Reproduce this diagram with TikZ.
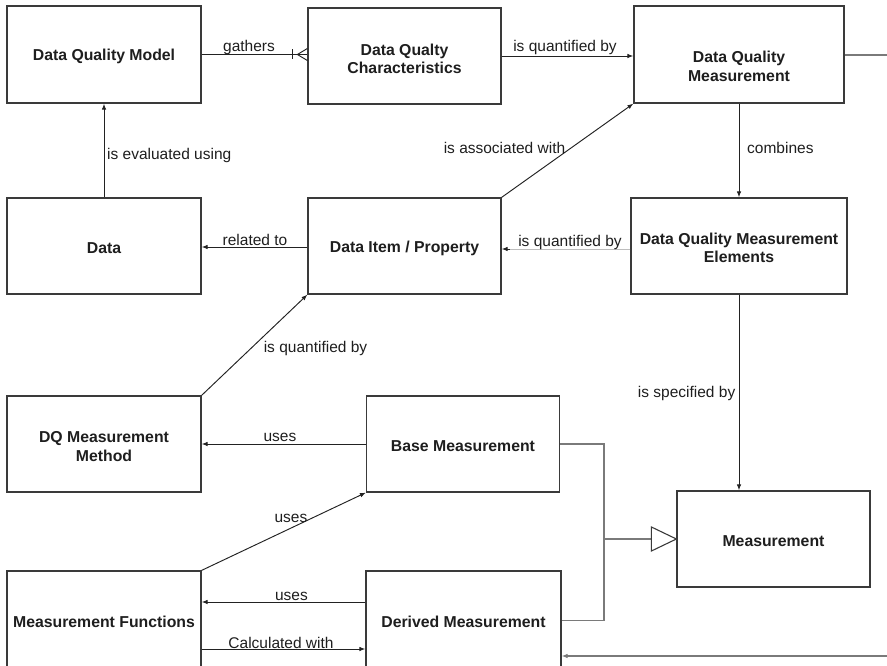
\documentclass[tikz,border=0pt]{standalone}
\usepackage{fontspec}
\setmainfont{Liberation Sans}
\usetikzlibrary{arrows.meta,calc}

\definecolor{boxline}{HTML}{3A3A3A}
\definecolor{conn}{HTML}{222222}
\definecolor{soft}{HTML}{7A7A7A}
\definecolor{faint}{HTML}{BDBDBD}
\definecolor{ink}{HTML}{1E1E1E}

\tikzset{
  entity/.style={draw=boxline, line width=1.2pt, fill=white, inner sep=2pt},
  entitytext/.style={inner sep=0pt, align=center, text=ink,
    font=\fontsize{15.8}{18.5}\selectfont\bfseries},
  rel/.style={draw=conn, line width=0.95pt},
  tip/.style={-{Latex[length=6pt,width=4.5pt]}},
  relarrow/.style={rel, tip},
  softrel/.style={draw=soft, line width=1.1pt},
  lbl/.style={inner sep=0pt, text=ink, font=\fontsize{15.5}{18}\selectfont},
}

\begin{document}
\begin{tikzpicture}[x=1pt, y=-1pt]
\useasboundingbox (0,0) rectangle (887,666);
\clip (0,0) rectangle (887,666);

% entity boxes
\node[entity, minimum width=194pt, minimum height=97pt] (dqm)    at (104,54.5)  {};
\node[entity, minimum width=193pt, minimum height=96pt] (dqc)    at (404.5,56)  {};
\node[entity, minimum width=210pt, minimum height=97pt] (dqmeas) at (739,54.5)  {};
\node[entity, minimum width=194pt, minimum height=96pt] (data)   at (104,246)   {};
\node[entity, minimum width=193pt, minimum height=96pt] (di)     at (404.5,246) {};
\node[entity, minimum width=216pt, minimum height=96pt] (dqme)   at (739,246)   {};
\node[entity, minimum width=194pt, minimum height=96pt] (dqmm)   at (104,444)   {};
\node[entity, minimum width=193pt, minimum height=96pt] (base)   at (463,444)   {};
\node[entity, minimum width=193pt, minimum height=96pt] (meas)   at (773.5,539) {};
\node[entity, minimum width=194pt, minimum height=99pt] (mf)     at (104,620.5) {};
\node[entity, minimum width=195pt, minimum height=99pt] (dm)     at (463.5,620.5) {};

% entity names
\node[entitytext] (dqm-t)    at ([yshift=-2pt]dqm.center)     {Data Quality Model};
\node[entitytext] (dqc-t)    at ([yshift=-3pt]dqc.center)     {Data Qualty\\Characteristics};
\node[entitytext] (dqmeas-t) at ([yshift=-12pt]dqmeas.center) {Data Quality\\Measurement};
\node[entitytext] (data-t)   at ([yshift=-2pt]data.center)    {Data};
\node[entitytext] (di-t)     at ([yshift=-2pt]di.center)      {Data Item / Property};
\node[entitytext] (dqme-t)   at ([yshift=-2pt]dqme.center)    {Data Quality Measurement\\Elements};
\node[entitytext] (dqmm-t)   at ([yshift=-2.5pt]dqmm.center)  {DQ Measurement\\Method};
\node[entitytext] (base-t)   at ([yshift=-2pt]base.center)    {Base Measurement};
\node[entitytext] (meas-t)   at ([yshift=-2pt]meas.center)    {Measurement};
\node[entitytext] (mf-t)     at ([yshift=-1pt]mf.center)      {Measurement Functions};
\node[entitytext] (dm-t)     at ([yshift=-1pt]dm.center)      {Derived Measurement};

% loose ends running off the right side
\coordinate (rtop) at (887,55);
\coordinate (rbot) at (887,656);
\coordinate (bus)  at (604,539);

% gathers: one-to-many
\draw[rel] (dqm.east) -- (dqm.east -| dqc.west);
\draw[rel] ([xshift=-15pt,yshift=5pt]dqm.east -| dqc.west) -- ++(0pt,-10pt);
\draw[rel] ([xshift=-10pt]dqm.east -| dqc.west) -- ([yshift=6pt]dqm.east -| dqc.west);
\draw[rel] ([xshift=-10pt]dqm.east -| dqc.west) -- ([yshift=-6pt]dqm.east -| dqc.west);
\node[lbl] (l-gathers) at (249,47) {gathers};

% top row
\draw[relarrow] (dqc.east) -- (dqc.east -| dqmeas.west);
\node[lbl] (l-quant1) at (565,47) {is quantified by};
\draw[softrel] (dqmeas.east |- rtop) -- (rtop);

% combines
\draw[relarrow] (dqmeas.south) -- (dqme.north);
\node[lbl, anchor=west] (l-comb) at (747,148) {combines};

% is associated with
\draw[relarrow] (di.north east) -- (dqmeas.south west);
\node[lbl] (l-assoc) at (504.5,148) {is associated with};

% is evaluated using
\draw[relarrow] (data.north) -- (dqm.south);
\node[lbl, anchor=west] (l-eval) at (107,155) {is evaluated using};

% related to
\draw[relarrow] ([yshift=-1pt]di.west) -- ([yshift=-1pt]data.east);
\node[lbl] (l-rel) at (255,240) {related to};

% is quantified by (elements -> item): pale line, dark head
\draw[draw=faint, line width=1pt] ([yshift=-3pt]dqme.west) -- ([xshift=8pt,yshift=-3pt]dqme.west -| di.east);
\draw[relarrow] ([xshift=8pt,yshift=-3pt]dqme.west -| di.east) -- ([yshift=-3pt]dqme.west -| di.east);
\node[lbl] (l-quant2) at (570,242) {is quantified by};

% is quantified by (method -> item)
\draw[relarrow] (dqmm.north east) -- (di.south west);
\node[lbl] (l-quant3) at (315.5,348) {is quantified by};

% is specified by
\draw[relarrow] (dqme.south) -- (dqme.south |- meas.north);
\node[lbl, anchor=east] (l-spec) at (735.5,393) {is specified by};

% uses relations
\draw[relarrow] (base.west) -- (base.west -| dqmm.east);
\node[lbl] (l-uses1) at (280,437) {uses};
\draw[relarrow] (mf.north east) -- (base.south west);
\node[lbl] (l-uses2) at (291,518) {uses};
\draw[relarrow] ([yshift=18.5pt]dm.west) -- ([yshift=18.5pt]dm.west -| mf.east);
\node[lbl] (l-uses3) at (291.5,596) {uses};
\draw[relarrow] ([yshift=-28.5pt]dm.west -| mf.east) -- ([yshift=-28.5pt]dm.west);
\node[lbl] (l-calc) at (281,643) {Calculated with};

% generalisation
\draw[softrel] (base.east) -| (bus) |- (dm.east);
\draw[softrel] (bus) -- ([xshift=-25pt]meas.west);
\draw[draw=boxline, line width=1.1pt, fill=white] ([xshift=-25pt,yshift=12pt]meas.west) -- (meas.west) -- ([xshift=-25pt,yshift=-12pt]meas.west) -- cycle;

% incoming from the right side
\draw[softrel, tip] (rbot) -- (rbot -| dm.east);
\end{tikzpicture}
\end{document}
